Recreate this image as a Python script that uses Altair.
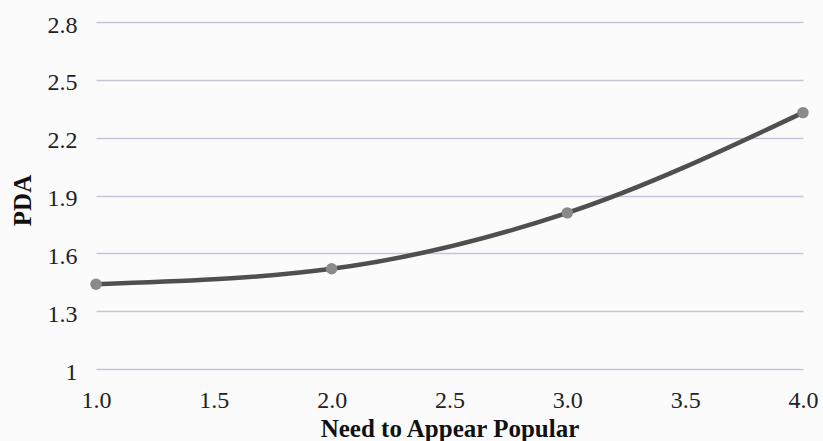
import altair as alt
import pandas as pd

need_popular = [1.0, 2.0, 3.0, 4.0]
pda = [1.44, 1.52, 1.81, 2.33]
y_ticks = [1.0, 1.3, 1.6, 1.9, 2.2, 2.5, 2.8]
x_ticks = [1.0, 1.5, 2.0, 2.5, 3.0, 3.5, 4.0]

df = pd.DataFrame({"x": need_popular, "y": pda})

FONT = "Liberation Serif"

x_enc = alt.X(
    "x:Q",
    title="Need to Appear Popular",
    scale=alt.Scale(domain=[1, 4], nice=False, zero=False),
    axis=alt.Axis(
        values=x_ticks, format=".1f", grid=False, domain=False, ticks=False,
        labelPadding=19, labelFontSize=24, labelFont=FONT, labelColor="#222222",
        titleFont=FONT, titleFontSize=25, titleFontWeight="bold", titleColor="#111111",
        titleY=67, titleBaseline="alphabetic", labelFlush=False,
    ),
)
y_enc = alt.Y(
    "y:Q",
    title="PDA",
    scale=alt.Scale(domain=[1, 2.8], nice=False, zero=False),
    axis=alt.Axis(
        values=y_ticks, labelExpr="datum.value == 1 ? '1' : format(datum.value, '.1f')",
        grid=True, gridColor="#c4c7d8", gridWidth=1.5, domain=False, ticks=False,
        labelPadding=19, labelFontSize=24, labelFont=FONT, labelColor="#222222",
        labelOffset=3,
        titleFont=FONT, titleFontSize=25, titleFontWeight="bold", titleColor="#111111",
        titleX=-74, titleY=178, titleBaseline="middle", titleAngle=270,
    ),
)

line = alt.Chart(df).mark_line(
    color="#4f4f4f", strokeWidth=4.5, interpolate="monotone"
).encode(x=x_enc, y=y_enc)

points = alt.Chart(df).mark_circle(
    color="#8a8a8a", opacity=1, size=130
).encode(x="x:Q", y="y:Q")

chart = (
    alt.layer(line, points)
    .properties(
        width=707, height=347,
        padding={"left": 96, "top": 22, "right": 20, "bottom": 72},
        autosize=alt.AutoSizeParams(type="none"),
        background="#fbfbfb",
    )
    .configure_view(stroke=None)
)

chart.save("out.html", embed_options={"renderer": "svg", "actions": False})
